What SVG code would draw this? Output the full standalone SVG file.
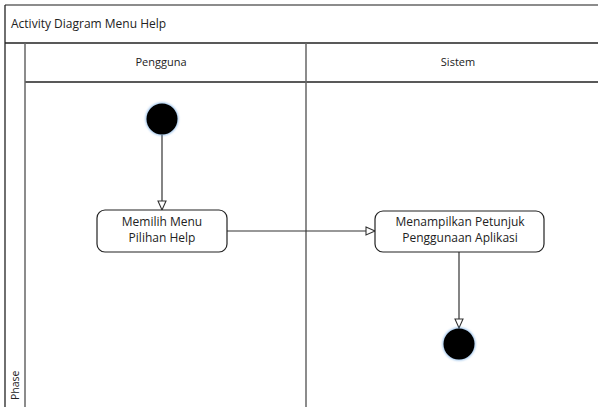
<svg xmlns="http://www.w3.org/2000/svg" width="598" height="407" viewBox="0 0 598 407">
  <style>
    .frame { stroke: #222; stroke-width: 1.3; fill: none; }
    .divider { stroke: #666; stroke-width: 1.5; fill: none; }
    .label { font-family: "Open Sans", "Liberation Sans", sans-serif; font-size: 10.5px; fill: #222; }
    .big { font-size: 12px; }
    .head { font-size: 11px; }
    .center { text-anchor: middle; }
    .action { fill: #fff; stroke: #222; stroke-width: 1.2; }
    .flow { stroke: #333; stroke-width: 1.2; fill: none; marker-end: url(#open-arrow); }
    .dot { fill: #000; }
    .halo { fill: #4a90d9; opacity: 0.55; filter: url(#soft); }
  </style>
  <defs>
    <marker id="open-arrow" markerWidth="12" markerHeight="10" refX="10" refY="5" orient="auto" markerUnits="userSpaceOnUse">
      <path d="M1,1 L10,5 L1,9 Z" fill="#fff" stroke="#333" stroke-width="1.1"/>
    </marker>
    <filter id="soft" x="-30%" y="-30%" width="160%" height="160%">
      <feGaussianBlur stdDeviation="1"/>
    </filter>
  </defs>

  <rect width="598" height="407" fill="#fff"/>

  <!-- swimlane frame -->
  <g id="frame">
    <line class="divider" x1="5" y1="5" x2="598" y2="5"/>
    <line class="frame" x1="5" y1="5" x2="5" y2="407"/>
    <line class="frame" x1="5" y1="43" x2="598" y2="43"/>
    <line class="frame" x1="25" y1="82" x2="598" y2="82"/>
    <line class="divider" x1="25" y1="43" x2="25" y2="407"/>
    <line class="divider" x1="306" y1="43" x2="306" y2="407"/>
    <text class="label big" x="11" y="28">Activity Diagram Menu Help</text>
    <text class="label head center" x="161" y="66">Pengguna</text>
    <text class="label head center" x="458" y="66">Sistem</text>
    <text class="label" transform="translate(19,400) rotate(-90)">Phase</text>
  </g>

  <!-- connectors -->
  <g id="connectors">
    <line class="flow" x1="162" y1="135" x2="162" y2="210"/>
    <line class="flow" x1="227" y1="231" x2="375" y2="231"/>
    <line class="flow" x1="459" y1="252" x2="459" y2="328"/>
  </g>

  <g id="start">
    <circle class="halo" cx="162" cy="119" r="16.5"/>
    <circle class="dot" cx="162" cy="119" r="15.5"/>
  </g>

  <g id="pilih-menu">
    <rect class="action" x="97" y="210" width="130" height="42" rx="8"/>
    <text class="label big center" x="162" y="226">Memilih Menu</text>
    <text class="label big center" x="162" y="242">Pilihan Help</text>
  </g>

  <g id="tampil-petunjuk">
    <rect class="action" x="375" y="211" width="169" height="41" rx="8"/>
    <text class="label big center" x="460" y="226">Menampilkan Petunjuk</text>
    <text class="label big center" x="460" y="242">Penggunaan Aplikasi</text>
  </g>

  <g id="end">
    <circle class="halo" cx="459" cy="344" r="16.5"/>
    <circle class="dot" cx="459" cy="344" r="15.5"/>
  </g>
</svg>
